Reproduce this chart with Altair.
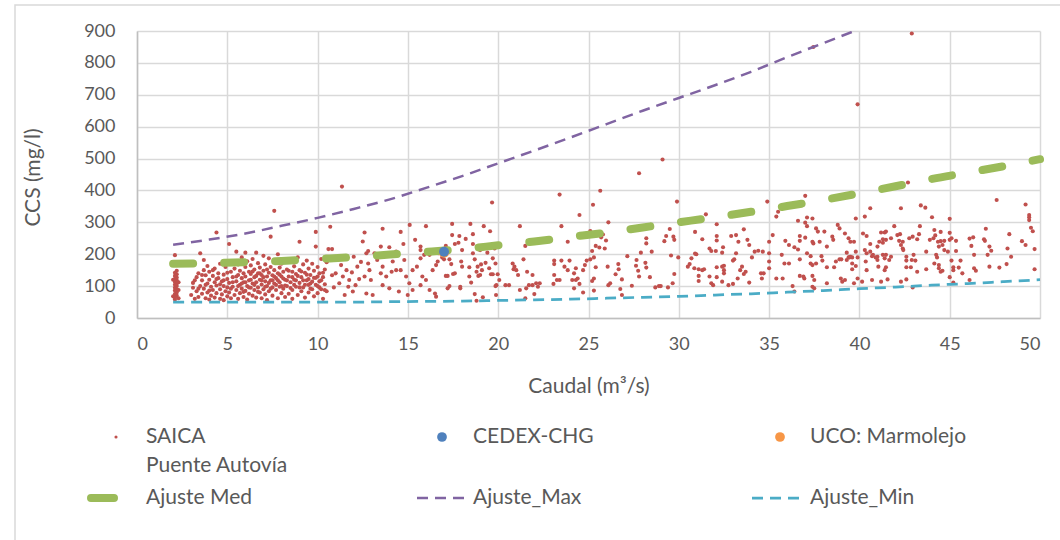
import altair as alt
import pandas as pd

FONT = "Lato"
TEXT = "#595959"
GRID = "#D9D9D9"

# SAICA samples as (caudal m3/s, CCS mg/l), grouped by flow band
saica_q02_05 = [
    (2.1, 58), (2.1, 64), (2.2, 70), (2.1, 75), (2.2, 80), (2.1, 86), (2.2, 90), (2.1, 95),
    (2.2, 100), (2.1, 104), (2.2, 108), (2.1, 113), (2.2, 118), (2.1, 122), (2.2, 127),
    (2.1, 132), (2.2, 137), (2.1, 142), (2.2, 148), (2.1, 197), (2.3, 62), (2.3, 88),
    (2.3, 112), (2.0, 68), (2.0, 120),
    (3.0, 72), (3.1, 95), (3.1, 110), (3.2, 60), (3.3, 84), (3.3, 128), (3.4, 140), (3.4, 66),
    (3.5, 100), (3.5, 203), (3.6, 118), (3.6, 76), (3.7, 182), (3.7, 150), (3.7, 92), (3.8, 62),
    (3.8, 134), (3.9, 163), (3.9, 108), (3.9, 80), (4.0, 120), (4.0, 58), (4.0, 145), (4.1, 98),
    (4.1, 70), (4.2, 132), (4.2, 88), (4.3, 112), (4.3, 155), (4.3, 64), (4.4, 268), (4.4, 102),
    (4.4, 78), (4.5, 125), (4.5, 140), (4.6, 90), (4.6, 60), (4.6, 170), (4.7, 115), (4.7, 74),
    (4.8, 100), (4.8, 136), (4.8, 56), (4.9, 84), (4.9, 160), (5.0, 122), (5.0, 96), (5.0, 68),
]
saica_q05_08 = [
    (5.1, 232), (5.1, 110), (5.1, 80), (5.2, 145), (5.2, 62), (5.2, 175), (5.3, 98), (5.3, 128),
    (5.4, 72), (5.4, 155), (5.5, 208), (5.5, 115), (5.5, 88), (5.6, 135), (5.6, 60), (5.6, 168),
    (5.7, 104), (5.7, 78), (5.7, 148), (5.8, 125), (5.8, 92), (5.8, 190), (5.9, 66), (5.9, 140),
    (5.9, 112), (6.0, 205), (6.0, 85), (6.0, 160), (6.0, 130), (6.1, 100), (6.1, 58), (6.1, 178),
    (6.2, 118), (6.2, 145), (6.2, 76), (6.3, 95), (6.3, 165), (6.3, 138), (6.4, 108), (6.4, 70),
    (6.4, 185), (6.5, 128), (6.5, 88), (6.5, 152), (6.6, 205), (6.6, 112), (6.6, 64), (6.7, 140),
    (6.7, 96), (6.7, 172), (6.8, 120), (6.8, 80), (6.8, 158), (6.9, 105), (6.9, 135), (6.9, 62),
    (7.0, 148), (7.0, 90), (7.0, 195), (7.1, 115), (7.1, 74), (7.1, 168), (7.2, 130), (7.2, 100),
    (7.2, 56), (7.3, 187), (7.3, 142), (7.3, 84), (7.4, 255), (7.4, 118), (7.4, 160), (7.5, 96),
    (7.5, 70), (7.5, 134), (7.6, 336), (7.6, 150), (7.6, 108), (7.7, 175), (7.7, 88), (7.7, 125),
    (7.8, 62), (7.8, 140), (7.8, 200), (7.9, 112), (7.9, 98), (7.9, 158), (8.0, 78), (8.0, 130),
    (8.0, 170), (8.1, 145), (8.1, 92), (8.2, 120), (8.2, 66), (8.2, 185),
]
# denser core of low-flow samples
saica_q03_10_core = [
    (3.2, 118), (3.4, 92), (3.6, 135), (3.8, 104), (4.0, 86), (4.2, 150), (4.4, 122), (4.6, 106),
    (4.8, 118), (5.0, 142), (5.2, 92), (5.3, 112), (5.5, 130), (5.6, 100), (5.8, 108), (5.9, 82),
    (6.0, 112), (6.2, 96), (6.3, 120), (6.4, 146), (6.5, 104), (6.6, 132), (6.7, 82), (6.8, 140),
    (6.9, 118), (7.0, 128), (7.1, 98), (7.2, 152), (7.3, 110), (7.4, 92), (7.5, 118), (7.6, 130),
    (7.7, 104), (7.8, 118), (7.9, 136), (8.0, 100), (8.1, 124), (8.2, 102), (8.3, 118),
    (8.4, 148), (8.5, 94), (8.6, 128), (8.7, 104), (8.8, 118), (8.9, 132), (9.0, 96),
    (9.1, 146), (9.2, 118), (9.3, 104), (9.4, 136), (9.5, 122), (9.6, 108), (9.7, 90),
    (9.8, 126), (9.9, 104), (10.0, 130), (10.1, 96), (10.2, 118), (10.3, 142), (10.4, 88),
]
saica_q08_12 = [
    (8.3, 152), (8.3, 100), (8.4, 130), (8.4, 76), (8.5, 178), (8.5, 112), (8.6, 145), (8.6, 88),
    (8.6, 60), (8.7, 162), (8.7, 120), (8.8, 98), (8.8, 138), (8.9, 72), (8.9, 190), (9.0, 239),
    (9.0, 110), (9.0, 150), (9.1, 84), (9.1, 128), (9.2, 168), (9.2, 96), (9.3, 142), (9.3, 64),
    (9.4, 118), (9.4, 180), (9.5, 104), (9.5, 80), (9.5, 155), (9.6, 135), (9.6, 92), (9.7, 170),
    (9.7, 114), (9.8, 68), (9.8, 148), (9.9, 224), (9.9, 270), (9.9, 126), (10.0, 100),
    (10.0, 160), (10.0, 78), (10.1, 140), (10.1, 115), (10.2, 185), (10.2, 90), (10.3, 128),
    (10.3, 60), (10.4, 152), (10.4, 106), (10.5, 175), (10.5, 84),
    (10.6, 216), (10.7, 286), (10.7, 182), (10.8, 216), (10.8, 134), (10.9, 96), (11.0, 140),
    (11.1, 187), (11.2, 109), (11.3, 166), (11.35, 412), (11.4, 130), (11.5, 72), (11.6, 150),
    (11.7, 98), (11.75, 119), (11.9, 143), (12.0, 192), (11.95, 83), (12.1, 103), (12.2, 161),
    (12.3, 122), (12.4, 176),
]
saica_q12_17 = [
    (12.5, 240), (12.6, 268), (12.6, 130), (12.7, 77), (12.7, 203), (12.8, 210), (12.8, 171),
    (12.87, 150), (12.95, 119), (13.05, 72), (13.15, 203), (13.3, 182), (13.5, 224), (13.5, 140),
    (13.6, 280), (13.6, 161), (13.6, 103), (13.8, 130), (13.97, 222), (13.97, 93), (14.1, 145),
    (14.16, 177), (14.35, 208), (14.35, 150), (14.5, 83), (14.6, 270), (14.6, 150), (14.75, 232),
    (14.8, 182), (14.9, 130), (14.99, 72), (15.08, 109), (15.1, 292), (15.26, 150), (15.26, 88),
    (15.4, 245), (15.5, 161), (15.7, 224), (15.7, 213), (15.7, 187), (15.7, 103), (15.8, 130),
    (15.9, 198), (16.0, 288), (16.0, 119), (16.2, 198), (16.2, 88), (16.3, 213), (16.37, 150),
    (16.5, 77),
]
saica_q17_25 = [
    (17.45, 295), (18.46, 295), (19.2, 288), (19.55, 272), (19.66, 362), (21.2, 288), (23.4, 387),
    (24.5, 323), (23.5, 288), (17.45, 260), (17.85, 257), (18.2, 248), (18.6, 263), (18.6, 232),
    (17.6, 232), (17.8, 236), (17.1, 226), (18.0, 213), (19.0, 213), (19.4, 205), (19.8, 218),
    (21.5, 226), (21.7, 236), (23.85, 239), (18.6, 203), (16.7, 203), (16.9, 190), (16.65, 177),
    (16.56, 166), (17.3, 184), (17.4, 169), (17.0, 184), (17.95, 177), (18.0, 161), (18.4, 159),
    (18.7, 184), (19.05, 168), (19.3, 173), (19.7, 187), (19.85, 171), (18.86, 161), (18.8, 145),
    (19.1, 150), (19.5, 156), (19.0, 135), (18.9, 132), (18.4, 130), (17.5, 138), (17.6, 140),
    (17.1, 132), (17.2, 132), (19.6, 137), (19.7, 137), (19.97, 137), (20.06, 119), (19.9, 103),
    (20.4, 103), (20.6, 103), (20.8, 171), (20.9, 161), (20.85, 153), (21.1, 135), (21.0, 150),
    (21.4, 184), (21.6, 145), (21.9, 135), (21.7, 103), (21.9, 103), (21.55, 93), (22.1, 109),
    (22.3, 109), (22.2, 98), (21.2, 88), (21.5, 62), (22.0, 75), (23.1, 180), (23.1, 169),
    (23.5, 180), (23.95, 180), (23.67, 161), (23.85, 150), (24.3, 156), (24.2, 140), (24.7, 150),
    (24.8, 166), (23.1, 135), (23.25, 119), (23.4, 119), (23.06, 107), (24.1, 119), (24.3, 119),
    (24.4, 124), (24.2, 93), (24.5, 107), (24.7, 80), (17.9, 98), (17.9, 93), (17.3, 100),
    (17.2, 93), (16.56, 67), (18.7, 75), (19.15, 65), (18.8, 54), (18.5, 111), (19.85, 100),
    (19.88, 72),
]
saica_q25_33 = [
    (27.8, 454), (25.65, 399), (25.25, 355), (29.9, 365), (29.1, 497), (26.1, 300), (25.1, 273),
    (25.8, 262), (25.7, 253), (25.97, 243), (28.2, 250), (28.2, 234), (28.5, 208), (27.9, 205),
    (29.3, 257), (29.2, 241), (29.7, 255), (29.75, 245), (29.5, 279), (30.9, 270), (31.3, 247),
    (31.5, 325), (32.1, 294), (32.1, 257), (32.1, 243), (32.9, 257), (31.7, 218), (31.8, 210),
    (32.05, 210), (32.45, 222), (32.4, 205), (30.9, 202), (33.0, 180), (25.2, 210), (25.4, 226),
    (25.6, 221), (25.9, 218), (24.9, 180), (25.1, 184), (25.3, 190), (25.4, 159), (26.06, 161),
    (26.65, 169), (26.67, 153), (27.15, 194), (27.66, 182), (27.63, 164), (28.15, 173),
    (28.2, 158), (27.75, 148), (27.8, 130), (26.5, 137), (26.85, 121), (25.3, 124), (25.2, 116),
    (26.2, 109), (26.1, 103), (26.76, 91), (26.85, 72), (25.3, 86), (27.4, 101), (28.4, 128),
    (28.7, 96), (28.9, 100), (29.0, 100), (29.4, 96), (29.66, 109), (29.75, 138), (29.97, 190),
    (29.57, 196), (30.5, 161), (30.6, 169), (30.7, 187), (30.97, 200), (30.86, 156), (31.1, 153),
    (31.4, 153), (31.1, 132), (31.3, 150), (31.1, 116), (31.7, 130), (31.8, 109), (31.9, 103),
    (32.1, 159), (32.4, 161), (32.5, 150), (32.5, 140), (32.4, 114), (32.1, 128), (32.75, 103),
    (33.0, 107), (33.07, 184), (32.5, 164),
]
saica_q33_41 = [
    (37.0, 383), (34.9, 365), (36.3, 357), (35.5, 333), (35.4, 318), (40.6, 344), (40.3, 318),
    (39.8, 312), (36.6, 305), (37.1, 315), (37.0, 299), (37.4, 312), (37.1, 288), (33.17, 260),
    (33.3, 239), (33.6, 278), (33.9, 229), (34.05, 190), (34.2, 208), (34.4, 211), (34.65, 208),
    (35.0, 239), (35.2, 260), (35.9, 242), (36.1, 229), (36.4, 222), (36.6, 215), (36.7, 257),
    (36.7, 242), (37.0, 252), (37.4, 239), (37.45, 234), (37.6, 281), (37.7, 271), (38.06, 271),
    (37.8, 239), (38.2, 224), (38.5, 255), (38.55, 245), (38.8, 292), (38.9, 281), (39.2, 265),
    (39.4, 250), (39.5, 239), (39.7, 239), (40.2, 265), (40.4, 257), (40.6, 232), (41.0, 224),
    (41.3, 236), (41.4, 268), (41.2, 268), (41.1, 239), (41.3, 247), (39.3, 205), (39.45, 190),
    (39.6, 190), (39.8, 208), (39.9, 190), (40.3, 213), (40.4, 203), (40.6, 208), (40.75, 198),
    (41.0, 192), (33.17, 203), (33.8, 245), (33.5, 161), (33.4, 150), (33.7, 145), (33.6, 138),
    (33.26, 124), (33.9, 111), (34.55, 140), (34.7, 140), (34.6, 124), (35.0, 203), (35.0, 177),
    (35.0, 156), (35.4, 124), (35.7, 198), (35.85, 171), (36.1, 171), (35.75, 124), (36.3, 100),
    (36.4, 83), (36.7, 184), (36.7, 132), (36.9, 130), (36.95, 124), (37.1, 203), (37.3, 194),
    (37.3, 171), (37.4, 166), (37.6, 171), (37.4, 132), (37.5, 119), (37.4, 98), (37.5, 93),
    (37.9, 194), (37.95, 180), (38.2, 159), (38.2, 109), (38.6, 159), (38.7, 177), (38.9, 184),
    (39.0, 184), (38.97, 124), (39.2, 119), (39.05, 114), (39.3, 182), (39.4, 190), (39.5, 192),
    (39.6, 171), (39.6, 153), (39.8, 163), (39.7, 109), (39.9, 124), (40.15, 114), (40.35, 177),
    (40.4, 150), (40.7, 194), (40.9, 190), (41.0, 182), (41.05, 161), (41.3, 198), (41.4, 187),
    (40.7, 119), (41.2, 114), (41.4, 150), (39.9, 670), (37.45, 850),
]
saica_q41_50 = [
    (42.9, 892), (42.69, 425), (42.3, 344), (43.4, 353), (43.65, 346), (44.02, 316), (45.0, 311),
    (47.6, 370), (49.2, 356), (49.4, 323), (49.4, 316), (49.4, 307), (49.5, 283), (49.6, 272),
    (41.93, 288), (43.35, 288), (44.15, 276), (44.5, 270), (45.0, 267), (47.0, 280), (48.3, 263),
    (49.0, 241), (49.7, 216), (41.47, 271), (41.47, 245), (41.75, 250), (42.1, 260), (42.25, 263),
    (42.2, 242), (42.4, 239), (42.76, 250), (42.95, 255), (43.2, 247), (43.3, 263), (42.3, 229),
    (42.4, 218), (42.43, 213), (43.9, 245), (44.1, 250), (44.2, 259), (44.35, 239), (44.5, 241),
    (44.7, 242), (45.0, 245), (45.1, 250), (45.35, 242), (44.6, 229), (44.7, 213), (44.9, 208),
    (44.4, 224), (44.25, 198), (44.3, 190), (43.7, 208), (45.35, 210), (46.1, 249), (46.3, 253),
    (46.2, 226), (46.35, 198), (46.9, 247), (46.95, 242), (47.2, 224), (47.3, 211), (47.1, 198),
    (48.2, 218), (48.4, 192), (49.2, 229), (41.47, 198), (41.75, 192), (41.65, 182), (41.47, 159),
    (42.6, 192), (42.6, 180), (42.9, 182), (43.0, 198), (43.1, 180), (42.6, 159), (42.85, 159),
    (43.7, 153), (43.2, 145), (44.15, 171), (44.4, 166), (44.4, 156), (44.5, 145), (44.6, 148),
    (45.1, 180), (45.2, 159), (45.6, 180), (45.5, 158), (45.7, 140), (45.2, 150), (46.35, 156),
    (46.45, 148), (47.2, 161), (47.75, 158), (48.15, 169), (49.7, 153), (41.56, 121), (42.3, 114),
    (42.6, 121), (45.0, 128), (45.2, 111), (46.1, 119), (42.95, 96),
]

cedex_chg = [(17.0, 208)]
uco_marmolejo = [(17.0, 205)]

# Fitted curves
ajuste_q = [2, 4, 6, 8, 10, 12, 14, 16, 18, 20, 22, 24, 26, 28, 30, 32, 34, 36, 38, 40,
            42, 44, 46, 48, 50]
ajuste_med = [170, 172, 175, 179, 185, 191, 199, 207, 216, 228, 240, 254, 268, 284, 300,
              316, 333, 351, 370, 391, 413, 436, 456, 476, 498]
ajuste_min = [50, 50, 50, 50, 50, 50, 51, 52, 53, 55, 57, 59, 62, 65, 68, 72, 76, 81, 86, 92,
              97, 103, 108, 114, 120]
ajuste_max_q = [2, 4, 6, 8, 10, 12, 14, 16, 18, 20, 22, 24, 26, 28, 30, 32, 34, 36, 38, 40]
ajuste_max = [230, 246, 265, 289, 314, 342, 372, 408, 445, 485, 525, 566, 608, 650, 690, 730,
              772, 818, 862, 906]

saica = pd.DataFrame(
    saica_q02_05 + saica_q05_08 + saica_q03_10_core + saica_q08_12 + saica_q12_17
    + saica_q17_25 + saica_q25_33 + saica_q33_41 + saica_q41_50,
    columns=["caudal", "ccs"],
)
cedex = pd.DataFrame(cedex_chg, columns=["caudal", "ccs"])
uco = pd.DataFrame(uco_marmolejo, columns=["caudal", "ccs"])
med = pd.DataFrame({"caudal": ajuste_q, "ccs": ajuste_med})
mn = pd.DataFrame({"caudal": ajuste_q, "ccs": ajuste_min})
mx = pd.DataFrame({"caudal": ajuste_max_q, "ccs": ajuste_max})

x_axis = alt.Axis(
    values=list(range(0, 51, 5)), title="Caudal (m³/s)", grid=True, ticks=False,
    labelPadding=17, titleY=68, titleBaseline="middle", titleFontSize=21,
)
y_axis = alt.Axis(
    values=list(range(0, 901, 100)), title="CCS (mg/l)", grid=True, ticks=False,
    labelPadding=22, titleX=-104, titleY=146, titleAngle=270, titleAlign="center",
    titleBaseline="middle", titleFontSize=21,
)
X = alt.X("caudal:Q", scale=alt.Scale(domain=[0, 50], nice=False, zero=False), axis=x_axis)
Y = alt.Y("ccs:Q", scale=alt.Scale(domain=[0, 900], nice=False), axis=y_axis)

one = pd.DataFrame({"k": [0]})

frame = alt.Chart(one).mark_rect(fillOpacity=0, stroke=GRID, strokeWidth=1.5).encode(
    x=alt.value(-122), x2=alt.value(1000), y=alt.value(-26), y2=alt.value(700)
)

pts = alt.Chart(saica).mark_circle(color="#C0504D", size=17, opacity=1).encode(x=X, y=Y)
line_min = alt.Chart(mn).mark_line(
    color="#4BACC6", strokeWidth=2.75, strokeDash=[11, 7], interpolate="monotone"
).encode(x=X, y=Y)
line_max = alt.Chart(mx).mark_line(
    color="#8064A2", strokeWidth=2.5, strokeDash=[11, 7], interpolate="monotone", clip=True
).encode(x=X, y=Y)
line_med = alt.Chart(med).mark_line(
    color="#9BBB59", strokeWidth=8, strokeDash=[20, 31], strokeCap="round",
    interpolate="monotone"
).encode(x=X, y=Y)
pt_uco = alt.Chart(uco).mark_circle(color="#F79646", size=100, opacity=1).encode(x=X, y=Y)
pt_cedex = alt.Chart(cedex).mark_circle(color="#4F81BD", size=100, opacity=1).encode(x=X, y=Y)


def legend_text(label, x, y):
    return alt.Chart(pd.DataFrame({"label": [label]})).mark_text(
        align="left", baseline="middle", font=FONT, fontSize=21, color=TEXT
    ).encode(x=alt.value(x), y=alt.value(y), text="label:N")


def legend_dot(color, size, x, y):
    return alt.Chart(one).mark_circle(color=color, size=size, opacity=1).encode(
        x=alt.value(x), y=alt.value(y)
    )


def legend_line(color, width, dash, cap, x1, x2, y):
    return alt.Chart(one).mark_rule(
        color=color, strokeWidth=width, strokeDash=dash, strokeCap=cap
    ).encode(x=alt.value(x1), x2=alt.value(x2), y=alt.value(y))


row1, row2, row_extra = 406, 467, 435
legend = [
    legend_dot("#C0504D", 10, -21, row1),
    legend_text(" SAICA", 9, row1),
    legend_text("Puente Autovía", 9, row_extra),
    legend_dot("#4F81BD", 95, 305, row1),
    legend_text("CEDEX-CHG", 336, row1),
    legend_dot("#F79646", 95, 643, row1),
    legend_text("UCO: Marmolejo", 673, row1),
    legend_line("#9BBB59", 8, [1, 0], "round", -46, -23, row2),
    legend_text("Ajuste Med", 9, row2),
    legend_line("#8064A2", 2.5, [11, 7], "butt", 280, 333, row2),
    legend_text("Ajuste_Max", 336, row2),
    legend_line("#4BACC6", 2.75, [11, 7], "butt", 615, 668, row2),
    legend_text("Ajuste_Min", 673, row2),
]

chart = alt.layer(
    frame, pts, line_min, line_max, line_med, pt_uco, pt_cedex, *legend
).properties(
    width=903,
    height=287,
    autosize=alt.AutoSizeParams(type="none"),
    padding={"left": 137, "top": 31, "right": 20, "bottom": 222},
).configure_view(stroke=None).configure_axis(
    labelFont=FONT, titleFont=FONT, labelFontSize=18, labelColor=TEXT, titleColor=TEXT,
    titleFontWeight="normal", gridColor=GRID, gridWidth=1.5, domainColor="#BFBFBF",
    domainWidth=1.5,
)

chart.save("out.html", embed_options={"renderer": "svg", "actions": False})
